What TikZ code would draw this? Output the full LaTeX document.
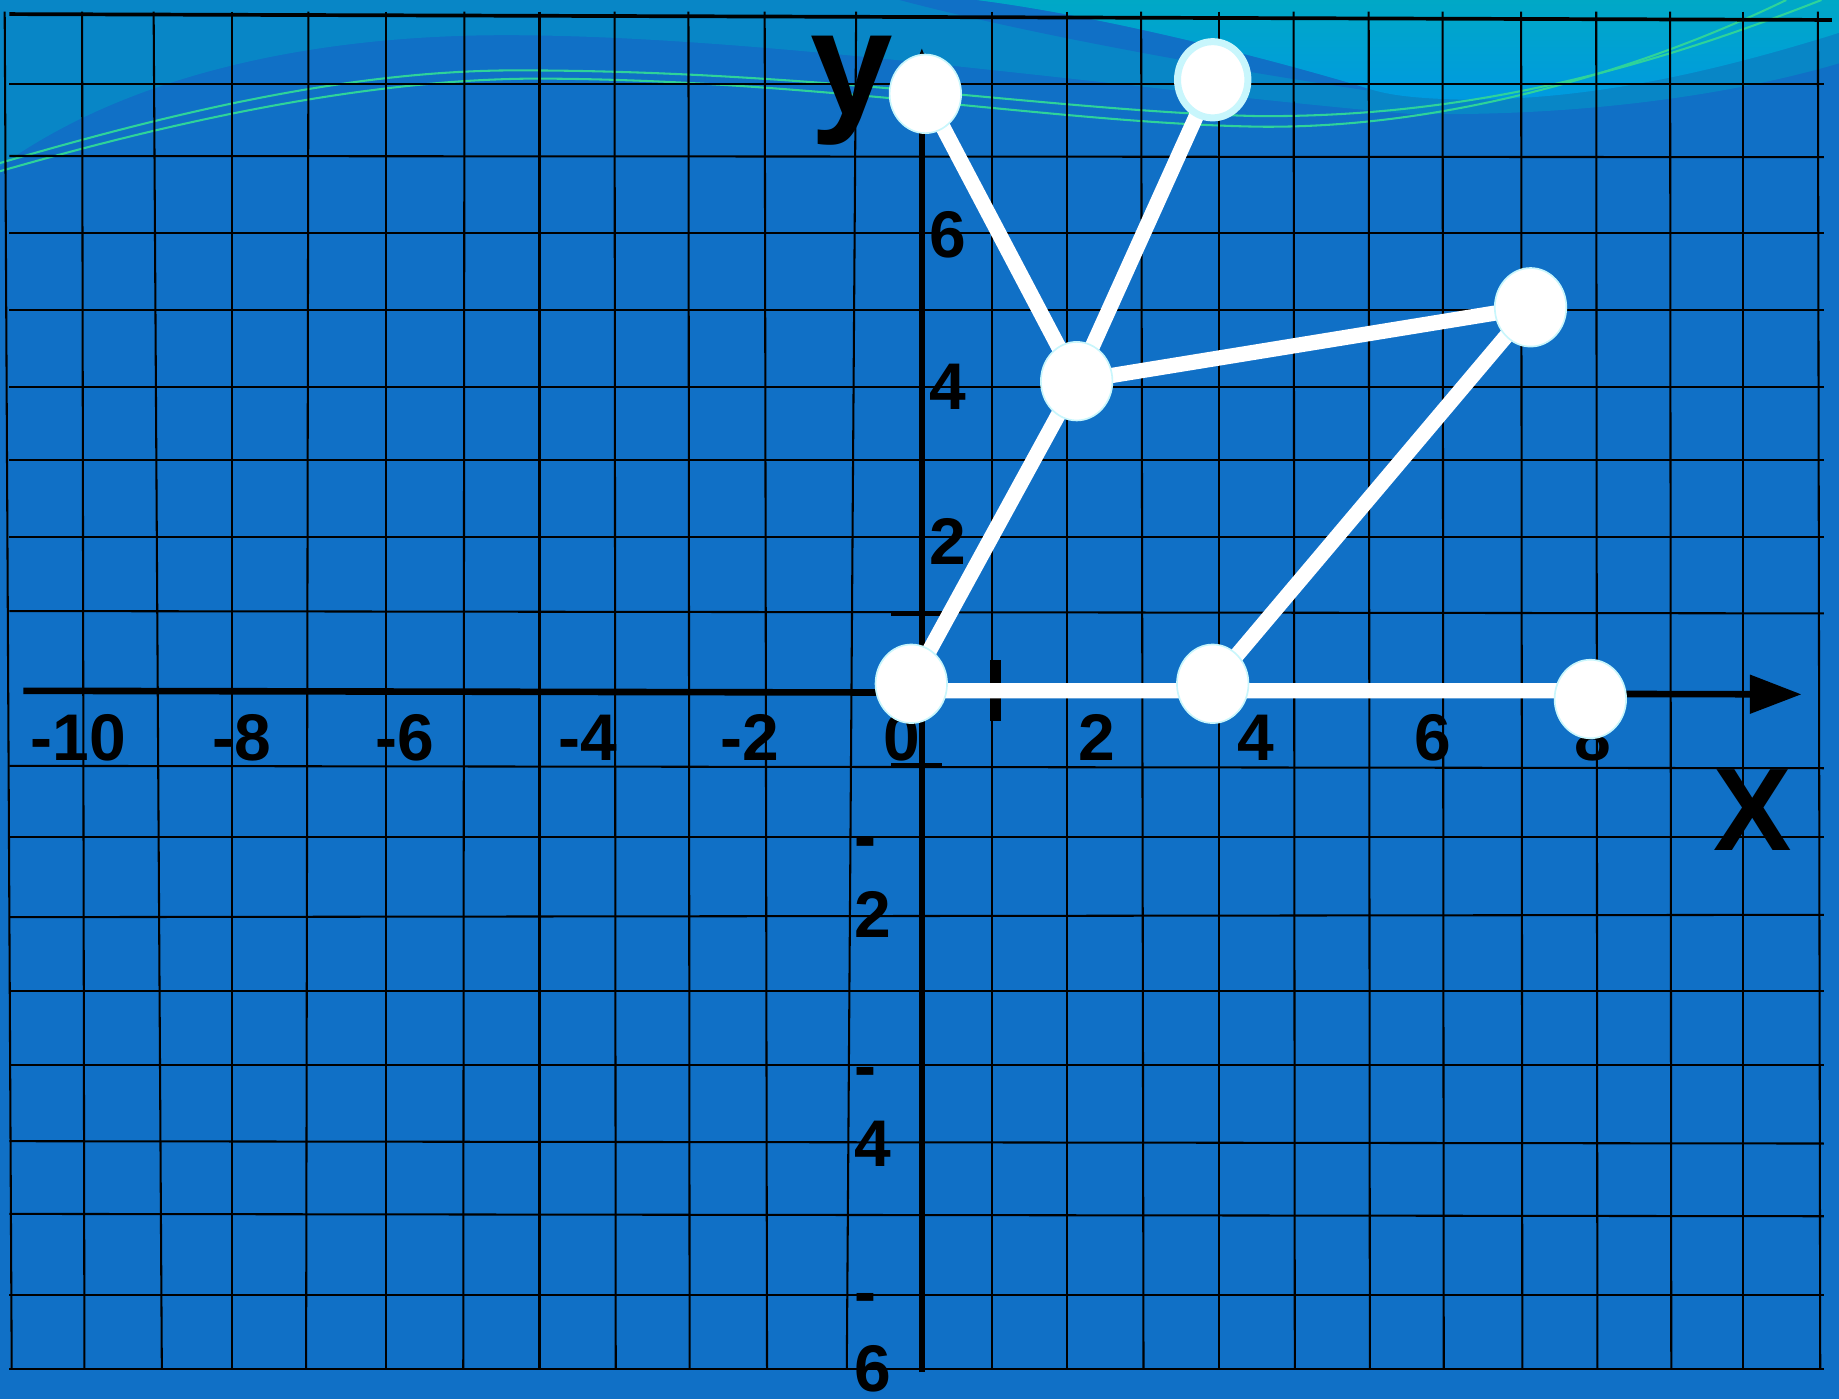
\documentclass[tikz,border=0pt]{standalone}
\usepackage{fontspec}
\setmainfont{Liberation Sans}
\usetikzlibrary{arrows.meta}
\usetikzlibrary{shapes.geometric}

\definecolor{bgblue}{HTML}{1070C6}
\definecolor{midcyan}{HTML}{0886C6}
\definecolor{topcyan}{HTML}{00A8C6}
\definecolor{skycyan}{HTML}{009AE0}
\definecolor{wavegreen}{HTML}{2ED39A}
\definecolor{ringcyan}{HTML}{C8F6FC}

\begin{document}
\begin{tikzpicture}[x=0.1mm, y=-0.1mm,
    gridline/.style={black, line width=0.5pt},
    axisline/.style={black, line width=1.6pt},
    seg/.style={white, line width=3.7pt},
    dot/.style={ellipse, fill=white, draw=ringcyan, line width=0.4pt,
        minimum width=6.1mm, minimum height=6.7mm, inner sep=0pt},
    bigdot/.style={dot, line width=1.7pt, minimum width=6.0mm, minimum height=6.5mm},
    lbl/.style={font=\fontsize{16}{18.8}\selectfont\bfseries, inner sep=0pt, text=black}]

    % background
    \fill[bgblue] (0,0) rectangle (1568,1193);
    \useasboundingbox (0,0) rectangle (1568,1193);
    \fill[midcyan] (0,0) -- (0,142) .. controls (100,70) and (250,30) .. (431,30)
        .. controls (650,30) and (950,75) .. (1200,97)
        .. controls (1350,100) and (1480,80) .. (1568,54) -- (1568,0) -- cycle;
    \fill[bgblue] (767,0) .. controls (880,30) and (1050,60) .. (1165,77) -- (1165,75)
        .. controls (1100,55) and (950,15) .. (833,0) -- cycle;
    \shade[top color=topcyan, bottom color=skycyan] (833,0) -- (1568,0) -- (1568,28)
        .. controls (1450,65) and (1350,85) .. (1250,85)
        .. controls (1200,84) and (1180,80) .. (1165,75)
        .. controls (1100,55) and (950,15) .. (833,0) -- cycle;
    \draw[wavegreen, line width=0.5pt] (0,139) .. controls (150,95) and (300,60) .. (440,60)
        .. controls (700,60) and (900,95) .. (1073,99)
        .. controls (1250,100) and (1400,60) .. (1553,0);
    \draw[wavegreen, line width=0.5pt] (0,146) .. controls (160,100) and (320,67) .. (460,67)
        .. controls (700,68) and (900,105) .. (1073,108)
        .. controls (1250,110) and (1420,50) .. (1523,0);

    % grid
    \foreach \xt/\xb in {4/10, 70/72, 131/138, 198/198, 263/261, 329/329, 396/395, 460/460,
        524/525, 587/588, 652/654, 730/722, 846/846, 910/910, 973/975, 1039/1039, 1103/1104,
        1167/1168, 1230/1231, 1297/1298, 1361/1362, 1424/1425, 1486/1486, 1550/1552}
        \draw[gridline] (\xt,10) -- (\xb,1168);
    \foreach \yl/\yr in {72/72, 133/134, 199/199, 264/264, 330/330, 392/392, 458/458, 521/523,
        653/655, 714/714, 782/780, 845/845, 908/908, 973/975, 1035/1037, 1104/1104, 1167/1167}
        \draw[gridline] (8,\yl) -- (1555,\yr);
    \draw[black, line width=0.9pt] (8,12) -- (1562,17);

    % axes
    \draw[axisline, -{Triangle[length=4.4mm, width=3.2mm]}] (20,589) -- (1536,592);
    \draw[axisline, -{Triangle[length=4.4mm, width=3.2mm]}] (786,1170) -- (786,41);
    \draw[black, line width=1.2pt] (760,523) -- (803,523);
    \draw[black, line width=1.2pt] (760,653) -- (803,653);
    \draw[black, line width=2.6pt] (849,563) -- (849,615);

    % labels
    \foreach \lx/\ltext [count=\i] in {67/-10, 206/-8, 345/-6, 501/-4, 639/-2, 769/0,
        935/2, 1071/4, 1222/6, 1358/8}
        \node[lbl] (xlab\i) at (\lx,629) {\ltext};
    \foreach \ly/\ltext [count=\i] in {200/6, 330/4, 462/2}
        \node[lbl] (ylab\i) at (808,\ly) {\ltext};
    \foreach \lb/\ltext [count=\i] in {800/2, 995/4, 1188/6}
        \node[lbl, align=left, anchor=south west] (nlab\i) at (728,\lb) {-\\\ltext};
    \node[font=\fontsize{36}{36}\selectfont\bfseries, inner sep=0pt, anchor=base west] (ylabel) at (690,98) {y};
    \node[font=\fontsize{28.5}{28.5}\selectfont\bfseries, inner sep=0pt] (xlabel) at (1494,691) {X};

    % figure
    \coordinate (p1) at (789,80);
    \coordinate (p2) at (1034,68);
    \coordinate (p3) at (918,325);
    \coordinate (p4) at (1305,262);
    \coordinate (p5) at (777,583);
    \coordinate (p6) at (1034,583);
    \coordinate (p7) at (1356,596);
    \draw[seg] ([yshift=-0.6mm]p5) -- ([yshift=0.7mm]p7);
    \draw[seg] (p6) -- (p4);
    \draw[seg] (p3) -- (p4);
    \draw[seg] (p1) -- (p3);
    \draw[seg] (p2) -- (p3);
    \draw[seg] (p3) -- (p5);
    \foreach \p in {1,3,4,5,6,7}
        \node[dot] (P\p) at (p\p) {};
    \node[bigdot] (P2) at (p2) {};
\end{tikzpicture}
\end{document}
